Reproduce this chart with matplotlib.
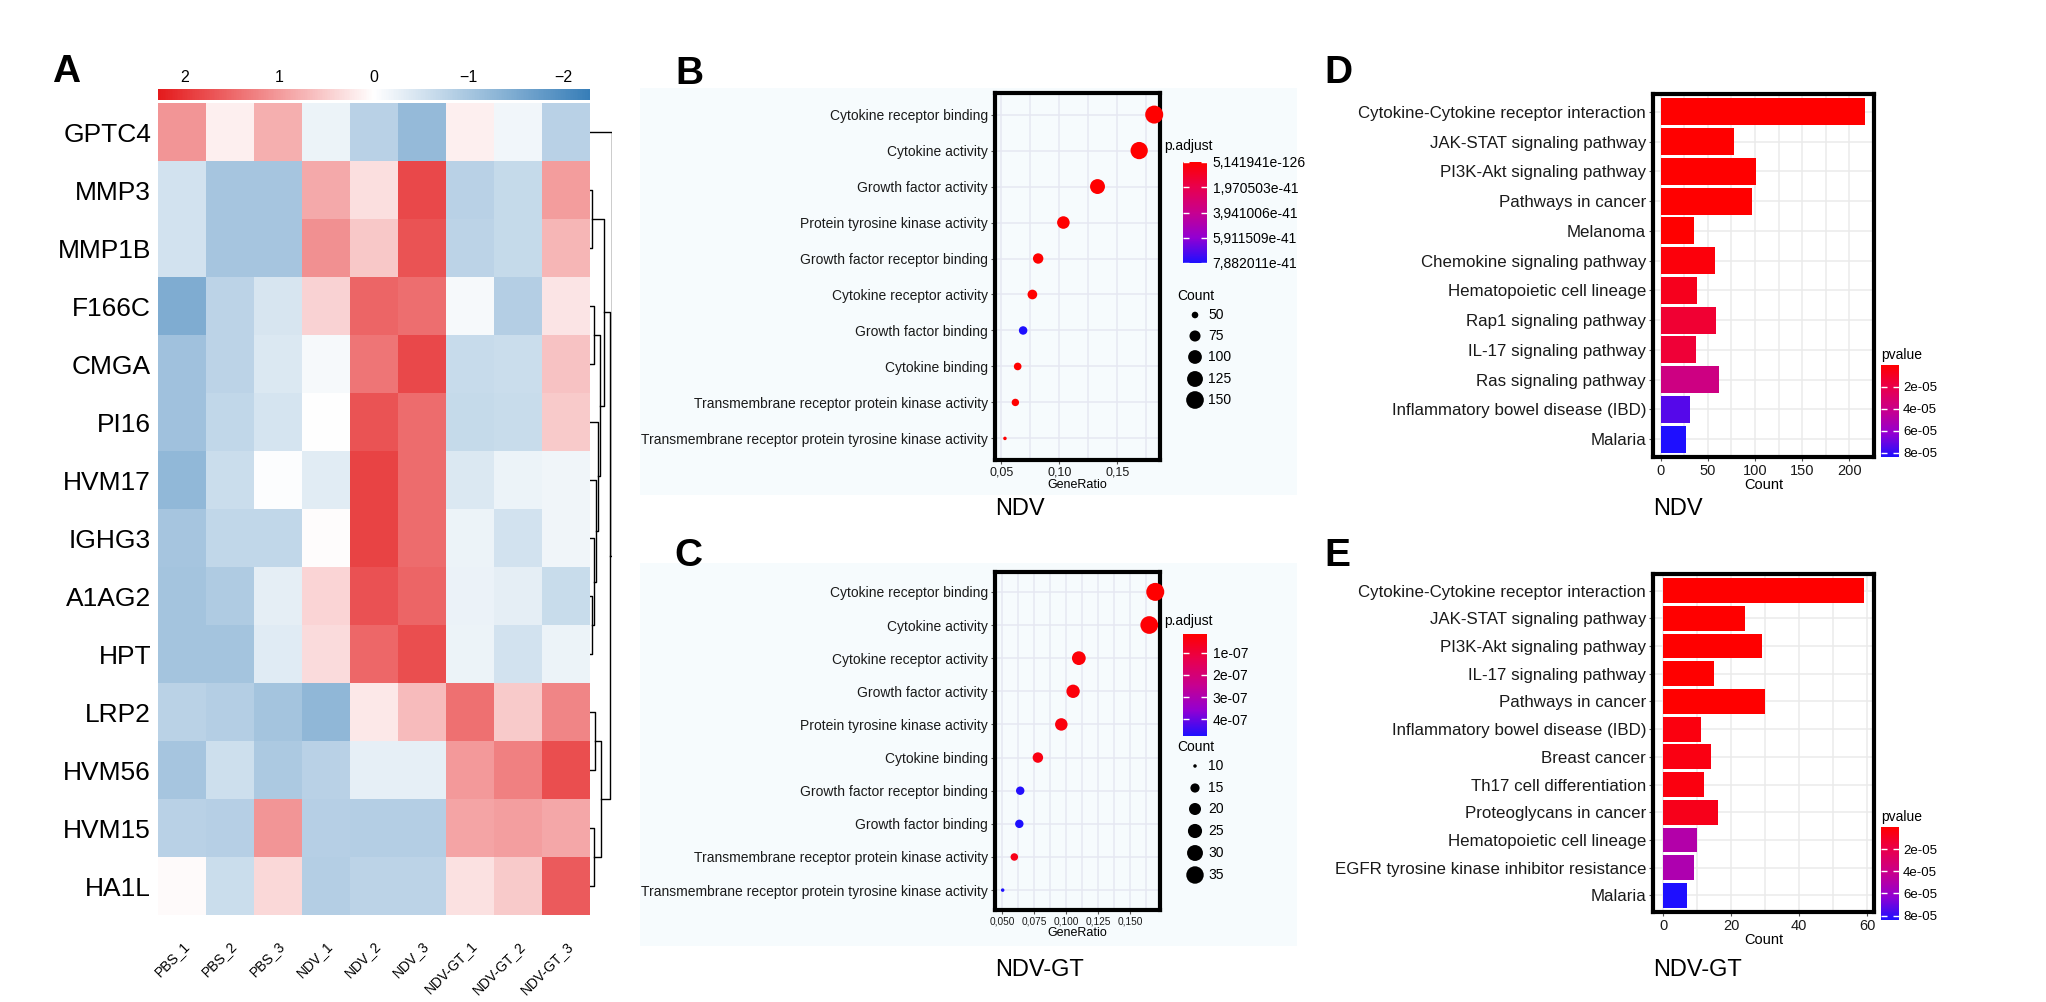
import numpy as np
import matplotlib
matplotlib.use("Agg")
import matplotlib.pyplot as plt
import matplotlib.cm as cm
from matplotlib.colors import LinearSegmentedColormap, Normalize

plt.rcParams['font.family'] = ['Liberation Sans', 'DejaVu Sans']
narrow = ['Liberation Sans Narrow', 'Liberation Sans', 'DejaVu Sans']

W, H = 2046, 1002

#%% datos
genes = ['GPTC4', 'MMP3', 'MMP1B', 'F166C', 'CMGA', 'PI16', 'HVM17', 'IGHG3',
         'A1AG2', 'HPT', 'LRP2', 'HVM56', 'HVM15', 'HA1L']
samples = ['PBS_1', 'PBS_2', 'PBS_3', 'NDV_1', 'NDV_2', 'NDV_3',
           'NDV-GT_1', 'NDV-GT_2', 'NDV-GT_3']
zscores = np.array([
    [1.05, 0.15, 0.80, -0.20, -0.80, -1.20, 0.15, -0.15, -0.80],
    [-0.50, -1.00, -1.00, 0.85, 0.32, 1.80, -0.80, -0.65, 0.97],
    [-0.50, -1.00, -1.00, 1.10, 0.55, 1.70, -0.75, -0.65, 0.73],
    [-1.45, -0.75, -0.45, 0.44, 1.52, 1.43, -0.10, -0.85, 0.25],
    [-1.07, -0.75, -0.40, -0.10, 1.36, 1.80, -0.63, -0.60, 0.59],
    [-1.07, -0.70, -0.47, 0.00, 1.70, 1.46, -0.65, -0.62, 0.52],
    [-1.24, -0.60, -0.02, -0.33, 1.86, 1.45, -0.40, -0.20, -0.17],
    [-1.00, -0.70, -0.70, 0.02, 1.87, 1.46, -0.20, -0.50, -0.17],
    [-1.03, -0.90, -0.30, 0.42, 1.72, 1.53, -0.22, -0.30, -0.62],
    [-1.02, -1.02, -0.35, 0.35, 1.50, 1.76, -0.20, -0.50, -0.20],
    [-0.78, -0.85, -1.02, -1.25, 0.22, 0.66, 1.42, 0.53, 1.20],
    [-1.00, -0.57, -0.93, -0.80, -0.27, -0.27, 1.00, 1.25, 1.76],
    [-0.80, -0.83, 1.05, -0.82, -0.85, -0.85, 0.90, 0.96, 0.86],
    [0.05, -0.60, 0.38, -0.85, -0.75, -0.75, 0.30, 0.52, 1.63],
])
hm_lim = 2.28
hm_ticks = [2, 1, 0, -1, -2]
# uniones del dendrograma: (hijo a, hijo b, altura); los nodos nuevos son 14, 15, ...
dendro_merges = [
    (1, 2, 0.5), (8, 9, 0.6), (7, 15, 1.0), (6, 16, 1.5), (5, 17, 2.0),
    (3, 4, 1.0), (19, 18, 2.5), (14, 20, 3.5), (10, 11, 1.2), (12, 13, 1.0),
    (22, 23, 2.8), (21, 24, 5.0), (0, 25, 5.5),
]

b_terms = ['Cytokine receptor binding', 'Cytokine activity', 'Growth factor activity',
           'Protein tyrosine kinase activity', 'Growth factor receptor binding',
           'Cytokine receptor activity', 'Growth factor binding', 'Cytokine binding',
           'Transmembrane receptor protein kinase activity',
           'Transmembrane receptor protein tyrosine kinase activity']
b_ratio = [0.182, 0.169, 0.133, 0.1035, 0.0817, 0.0767, 0.0687, 0.064, 0.062, 0.053]
b_count = [155, 144, 113, 88, 70, 65, 58, 54, 53, 45]
b_padj = [5.141941e-126, 1e-120, 1e-100, 1e-80, 1e-70, 1e-60, 7.882011e-41,
          1e-55, 1e-50, 1e-45]
b_xticks = [0.05, 0.10, 0.15]
b_xticklabels = ['0,05', '0,10', '0,15']
b_padj_ticks = [5.141941e-126, 1.970503e-41, 3.941006e-41, 5.911509e-41, 7.882011e-41]
b_padj_labels = ['5,141941e-126', '1,970503e-41', '3,941006e-41', '5,911509e-41',
                 '7,882011e-41']
b_count_breaks = [50, 75, 100, 125, 150]

c_terms = ['Cytokine receptor binding', 'Cytokine activity', 'Cytokine receptor activity',
           'Growth factor activity', 'Protein tyrosine kinase activity', 'Cytokine binding',
           'Growth factor receptor binding', 'Growth factor binding',
           'Transmembrane receptor protein kinase activity',
           'Transmembrane receptor protein tyrosine kinase activity']
c_ratio = [0.1697, 0.165, 0.110, 0.1055, 0.0963, 0.078, 0.0642, 0.0635, 0.0596, 0.0505]
c_count = [37, 36, 24, 23, 21, 17, 14, 14, 13, 11]
c_padj = [1.4e-8, 2e-8, 2.5e-8, 3e-8, 3.5e-8, 4e-8, 4.7e-7, 4.77e-7, 5e-8, 4.77e-7]
c_xticks = [0.050, 0.075, 0.100, 0.125, 0.150]
c_xticklabels = ['0,050', '0,075', '0,100', '0,125', '0,150']
c_padj_ticks = [1e-7, 2e-7, 3e-7, 4e-7]
c_padj_labels = ['1e-07', '2e-07', '3e-07', '4e-07']
c_count_breaks = [10, 15, 20, 25, 30, 35]

d_terms = ['Cytokine-Cytokine receptor interaction', 'JAK-STAT signaling pathway',
           'PI3K-Akt signaling pathway', 'Pathways in cancer', 'Melanoma',
           'Chemokine signaling pathway', 'Hematopoietic cell lineage',
           'Rap1 signaling pathway', 'IL-17 signaling pathway', 'Ras signaling pathway',
           'Inflammatory bowel disease (IBD)', 'Malaria']
d_count = [216, 78, 101, 97, 35, 58, 39, 59, 38, 62, 31, 27]
d_pvalue = [1e-40, 1e-12, 1e-10, 1e-9, 1e-7, 3e-6, 8e-6, 1.4e-5, 1.5e-5, 3.8e-5,
            7.4e-5, 8.4e-5]
d_xticks = [0, 50, 100, 150, 200]

e_terms = ['Cytokine-Cytokine receptor interaction', 'JAK-STAT signaling pathway',
           'PI3K-Akt signaling pathway', 'IL-17 signaling pathway', 'Pathways in cancer',
           'Inflammatory bowel disease (IBD)', 'Breast cancer', 'Th17 cell differentiation',
           'Proteoglycans in cancer', 'Hematopoietic cell lineage',
           'EGFR tyrosine kinase inhibitor resistance', 'Malaria']
e_count = [59, 24, 29, 15, 30, 11, 14, 12, 16, 10, 9, 7]
e_pvalue = [1e-25, 1e-8, 5e-8, 2e-7, 3e-7, 4e-6, 5e-6, 4e-6, 7e-6, 5.0e-5, 5.2e-5, 8.4e-5]
e_xticks = [0, 20, 40, 60]
pv_ticks = [2e-5, 4e-5, 6e-5, 8e-5]
pv_labels = ['2e-05', '4e-05', '6e-05', '8e-05']

#%% estilos
hm_cmap = LinearSegmentedColormap.from_list('hm', ['#377EB8', '#FFFFFF', '#E41A1C'])
rb = LinearSegmentedColormap.from_list(
    'rb', [(0, '#FF0000'), (0.25, '#E8004E'), (0.5, '#C7008F'), (0.75, '#9200D2'),
           (1, '#1E0FFF')])
panel_bg = '#F6FBFD'
grid_c = '#E6E8F2'


def box(x0, y0, x1, y1):
    return [x0 / W, 1 - y1 / H, (x1 - x0) / W, (y1 - y0) / H]


def dot_size(c, lo, hi):
    frac = np.clip((np.asarray(c, float) - lo) / (hi - lo), 0, 1)
    d_px = 3.5 + 14.5 * np.sqrt(frac)
    return (d_px * 0.72) ** 2


fig = plt.figure(figsize=(W / 100, H / 100), dpi=100)

#%% fondos de B y C
for (x0, y0, x1, y1) in [(640, 88, 1297, 495), (640, 563, 1297, 946)]:
    bg = fig.add_axes(box(x0, y0, x1, y1), zorder=-5)
    bg.set_facecolor(panel_bg)
    bg.set_xticks([])
    bg.set_yticks([])
    for s in bg.spines.values():
        s.set_visible(False)

#%% A: heatmap
ax = fig.add_axes(box(158, 103, 590, 915))
ax.imshow(zscores, cmap=hm_cmap, vmin=-hm_lim, vmax=hm_lim, aspect='auto',
          interpolation='nearest')
ax.set_yticks(range(len(genes)), genes, fontsize=19)
ax.set_xticks(range(len(samples)), samples, fontsize=10, rotation=45, ha='right',
              va='top', rotation_mode='anchor')
ax.tick_params(axis='y', length=0, pad=5)
ax.tick_params(axis='x', length=0, pad=17)
for s in ax.spines.values():
    s.set_visible(False)

cax = fig.add_axes(box(158, 89, 590, 100))
cb = fig.colorbar(cm.ScalarMappable(Normalize(-hm_lim, hm_lim), hm_cmap), cax=cax,
                  orientation='horizontal')
cb.set_ticks(hm_ticks)
cb.outline.set_visible(False)
cax.invert_xaxis()
cax.xaxis.set_ticks_position('top')
cax.tick_params(length=0, labelsize=11.5, pad=3)

dax = fig.add_axes(box(590, 103, 612, 915))
pos = {i: (0.0, float(i)) for i in range(len(genes))}
for k, (a, b, h) in enumerate(dendro_merges):
    ha_, ya = pos[a]
    hb, yb = pos[b]
    dax.plot([ha_, h, h, hb], [ya, ya, yb, yb], color='black', lw=1)
    pos[len(genes) + k] = (h, (ya + yb) / 2)
dax.set_ylim(len(genes) - 0.5, -0.5)
dax.set_xlim(0, 5.6)
dax.axis('off')


#%% B y C: dotplots
def dotplot(rect, terms, ratio, count, padj, xlim, xticks, xlabels, xtick_fs, xminor,
            cbar_rect, title_xy, ptick, plabel, leg_y, breaks, name, name_y):
    ax = fig.add_axes(box(*rect), facecolor=panel_bg)
    n = len(terms)
    y = np.arange(n)
    norm = Normalize(min(padj), max(padj))
    lo, hi = min(count), max(count)
    ax.scatter(ratio, y, s=dot_size(count, lo, hi), c=padj, cmap=rb, norm=norm,
               linewidths=0, zorder=3, clip_on=False)
    ax.set_xlim(*xlim)
    ax.set_ylim(n - 0.4, -0.6)
    ax.set_yticks(y, terms, fontsize=10, family=narrow, color='#1a1a1a')
    ax.set_xticks(xticks, xlabels, fontsize=xtick_fs, family=narrow, color='#1a1a1a')
    ax.set_xticks(xminor, minor=True)
    ax.tick_params(which='major', length=3, width=0.8, color='#555555', pad=2)
    ax.tick_params(which='minor', length=0)
    ax.grid(which='both', color=grid_c, lw=1.1, zorder=0)
    ax.set_axisbelow(True)
    for s in ax.spines.values():
        s.set_linewidth(3)
    ax.set_xlabel('GeneRatio', fontsize=9, family=narrow, labelpad=0)
    fig.text(rect[0] / W, 1 - name_y / H, name, fontsize=17, va='center')

    cax = fig.add_axes(box(*cbar_rect))
    cb = fig.colorbar(cm.ScalarMappable(norm, rb), cax=cax)
    cb.outline.set_visible(False)
    cb.set_ticks(ptick, labels=plabel)
    cax.invert_yaxis()
    cax.tick_params(direction='in', color='white', length=4, width=1, left=True,
                    right=True, labelsize=10, pad=4)
    for t in cax.get_yticklabels():
        t.set_family(narrow)
    fig.text(title_xy[0] / W, 1 - title_xy[1] / H, 'p.adjust', fontsize=10,
             family=narrow, va='center')

    lax = fig.add_axes(box(1170, leg_y[0] - 25, 1300, leg_y[-1] + 15))
    lax.set_xlim(1170, 1300)
    lax.set_ylim(leg_y[-1] + 15, leg_y[0] - 25)
    lax.axis('off')
    lax.scatter([1195] * len(breaks), leg_y, s=dot_size(breaks, lo, hi), color='black',
                linewidths=0)
    for v, yy in zip(breaks, leg_y):
        lax.text(1208, yy, str(v), fontsize=10, family=narrow, va='center')
    lax.text(1177, leg_y[0] - 19, 'Count', fontsize=10, family=narrow, va='center')


dotplot((995, 93, 1160, 460), b_terms, b_ratio, b_count, b_padj, (0.0444, 0.187),
        b_xticks, b_xticklabels, 9, [0.075, 0.125, 0.175], (1183, 162, 1207, 263),
        (1164, 146), b_padj_ticks, b_padj_labels, [315, 336, 357, 379, 400],
        b_count_breaks, 'NDV', 509)
dotplot((995, 572, 1160, 910), c_terms, c_ratio, c_count, c_padj, (0.0445, 0.1734),
        c_xticks, c_xticklabels, 7.3, [0.0625, 0.0875, 0.1125, 0.1375, 0.1625],
        (1183, 634, 1207, 736), (1164, 621), c_padj_ticks, c_padj_labels,
        [766, 788, 809, 831, 853, 875], c_count_breaks, 'NDV-GT', 970)


#%% D y E: barras KEGG
def barplot(rect, terms, count, pvalue, xlim, xticks, xminor, cbar_rect, name, name_y):
    ax = fig.add_axes(box(*rect))
    n = len(terms)
    y = np.arange(n)
    norm = Normalize(min(pvalue), max(pvalue))
    ax.barh(y, count, height=0.9, color=rb(norm(pvalue)), zorder=3)
    ax.set_xlim(*xlim)
    ax.set_ylim(n - 0.4, -0.6)
    ax.set_yticks(y, terms, fontsize=12.2, color='#1a1a1a')
    ax.set_xticks(xticks, [str(v) for v in xticks], fontsize=10.5, color='#1a1a1a')
    ax.set_xticks(xminor, minor=True)
    ax.tick_params(which='major', length=3, width=0.8, color='#555555', pad=2)
    ax.tick_params(which='minor', length=0)
    ax.grid(which='both', color='#EBEBEB', lw=1.1, zorder=0)
    ax.set_axisbelow(True)
    for s in ax.spines.values():
        s.set_linewidth(3)
    ax.set_xlabel('Count', fontsize=10.5, labelpad=0)
    fig.text(rect[0] / W, 1 - name_y / H, name, fontsize=17, va='center')

    cax = fig.add_axes(box(*cbar_rect))
    cb = fig.colorbar(cm.ScalarMappable(norm, rb), cax=cax)
    cb.outline.set_visible(False)
    cb.set_ticks(pv_ticks, labels=pv_labels)
    cax.invert_yaxis()
    cax.tick_params(direction='in', color='white', length=4, width=1, left=True,
                    right=True, labelsize=9.5, pad=3)
    fig.text(cbar_rect[0] / W, 1 - (cbar_rect[1] - 10) / H, 'pvalue', fontsize=10,
             va='center')


barplot((1653, 94, 1874, 457), d_terms, d_count, d_pvalue, (-8, 226), d_xticks,
        [25, 75, 125, 175, 225], (1881, 365, 1899, 457), 'NDV', 509)
barplot((1653, 574, 1874, 912), e_terms, e_count, e_pvalue, (-3, 62), e_xticks,
        [10, 30, 50], (1881, 827, 1899, 920), 'NDV-GT', 970)

#%% letras de los paneles
for letra, (x, y) in zip('ABCDE', [(66, 72), (689, 74), (688, 556), (1338, 73),
                                   (1337, 556)]):
    fig.text(x / W, 1 - y / H, letra, fontsize=28, weight='bold', ha='center',
             va='center')

fig.savefig('out.png', dpi=100)
